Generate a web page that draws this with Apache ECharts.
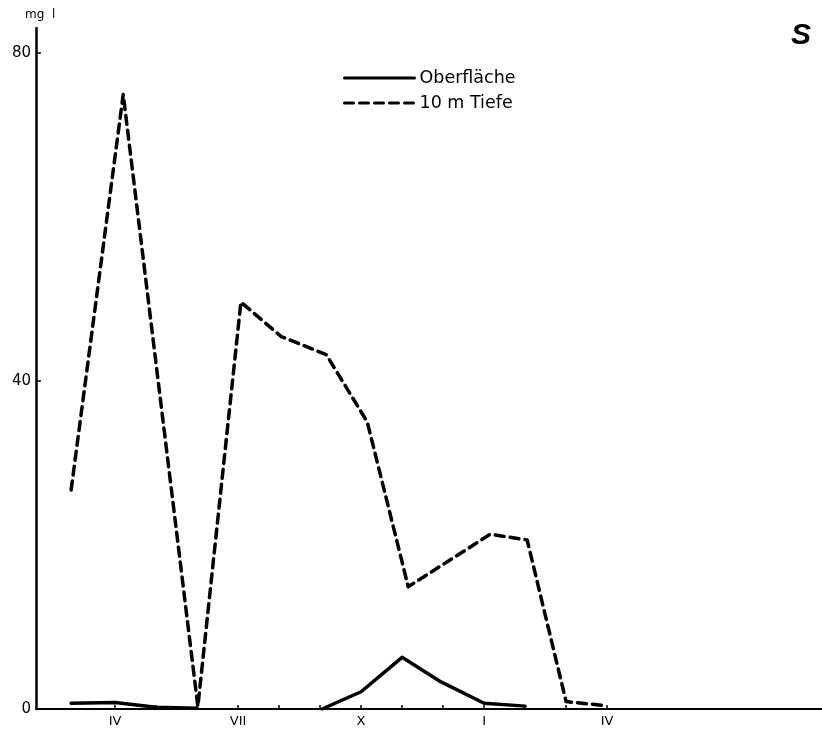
<!DOCTYPE html>
<html><head><meta charset="utf-8">
<script src="https://cdn.jsdelivr.net/npm/echarts@6/dist/echarts.min.js"></script>
<style>html,body{margin:0;padding:0;background:#fff}#c{width:822px;height:731px}</style>
</head><body><div id="c"></div>
<script>
// month numbers: 4 = April (year 1), 13 = January (year 2), 16 = April (year 2)
const monthTicks = [4,5,6,7,8,9,10,11,12,13,14,15,16];
const monthLabels = {4:'IV',7:'VII',10:'X',13:'I',16:'IV'};
const yTicks = [0,40,80];
const oberX = [2.93,4.0,5.0,6.0,null,9.05,10.0,11.0,11.95,13.0,14.0];
const oberY = [0.7,0.8,0.2,0.1,null,0,2.1,6.3,3.3,0.7,0.35];
const tiefeX = [2.93,4.2,6.02,7.07,8.05,9.15,10.15,11.15,13.15,14.05,15.0,16.0];
const tiefeY = [26.7,74.9,0.3,49.6,45.4,43.2,35.0,14.9,21.3,20.6,0.9,0.4];

const pairs = (xs, ys) => xs.map((x,i) => x === null ? ['-','-'] : [x, ys[i]]);
const font = '"DejaVu Sans", "Liberation Sans", Arial, sans-serif';
const chart = echarts.init(document.getElementById('c'));
chart.setOption({
  animation: false,
  backgroundColor: '#fff',
  title: { text: 'S', right: 6, top: 16, textStyle: { fontFamily: '"Liberation Sans", Arial, sans-serif', fontSize: 30, fontStyle: 'italic', fontWeight: 'bold', color: '#000' } },
  legend: {
    orient: 'vertical', left: 338, top: 64, itemWidth: 70, itemHeight: 10, itemGap: 7,
    itemStyle: { opacity: 0 },
    lineStyle: { width: 3 },
    textStyle: { fontFamily: font, fontSize: 17.5, color: '#000' },
    data: ['Oberfläche', '10 m Tiefe']
  },
  grid: { left: 36, right: 0, top: 28, bottom: 22 },
  xAxis: {
    type: 'value', min: 2.073, max: 21.24,
    axisLine: { lineStyle: { color: '#000', width: 2 } },
    axisTick: { show: true, inside: true, length: 4, customValues: monthTicks, lineStyle: { color: '#000', width: 1.5 } },
    axisLabel: { customValues: Object.keys(monthLabels).map(Number), formatter: v => monthLabels[v] || '', fontFamily: font, fontSize: 13, color: '#000', margin: 6 },
    splitLine: { show: false }
  },
  yAxis: {
    type: 'value', min: 0, max: 83,
    name: 'mg  l', nameLocation: 'end', nameGap: 7,
    nameTextStyle: { fontFamily: font, fontSize: 12, color: '#000', align: 'left', padding: [0,0,0,-11] },
    axisLine: { show: true, lineStyle: { color: '#000', width: 2.5 } },
    axisTick: { show: true, inside: true, length: 5, customValues: yTicks, lineStyle: { color: '#000', width: 1.5 } },
    axisLabel: { customValues: yTicks, fontFamily: font, fontSize: 15, color: '#000', margin: 5 },
    splitLine: { show: false }
  },
  series: [
    { name: 'Oberfläche', type: 'line', data: pairs(oberX, oberY), symbol: 'none', connectNulls: false,
      lineStyle: { color: '#000', width: 3.5, type: 'solid', cap: 'round', join: 'round' }, itemStyle: { color: '#000' } },
    { name: '10 m Tiefe', type: 'line', data: pairs(tiefeX, tiefeY), symbol: 'none',
      lineStyle: { color: '#000', width: 3.5, type: [9, 6], cap: 'round', join: 'round' }, itemStyle: { color: '#000' } }
  ]
});
</script></body></html>
